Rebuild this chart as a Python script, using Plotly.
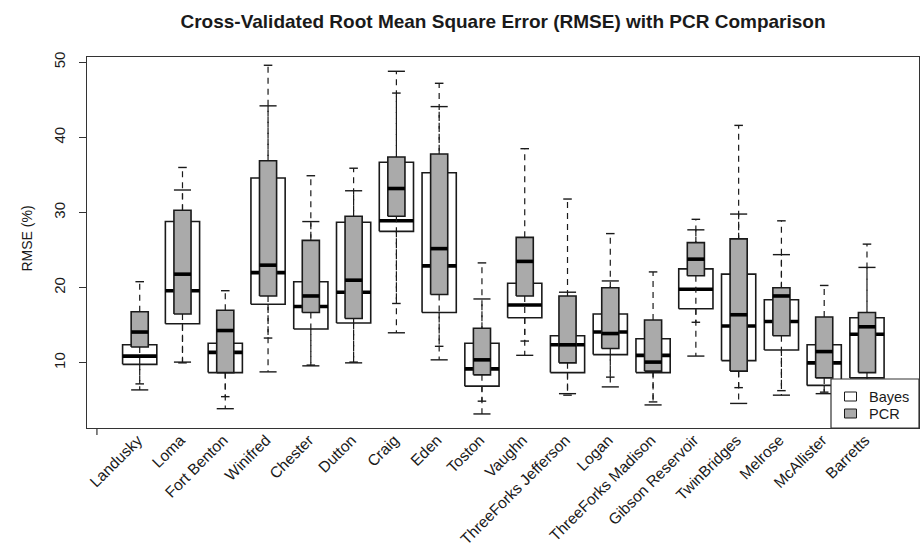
import plotly.graph_objects as go

# Sites along the x axis
sites = ["Landusky", "Loma", "Fort Benton", "Winifred", "Chester", "Dutton",
         "Craig", "Eden", "Toston", "Vaughn", "ThreeForks Jefferson", "Logan",
         "ThreeForks Madison", "Gibson Reservoir", "TwinBridges", "Melrose",
         "McAllister", "Barretts"]

# Bayes RMSE (%) box statistics: whisker low, Q1, median, Q3, whisker high
bayes_lo  = [6.4, 10.1, 3.9, 8.8, 9.6, 10.0, 14.0, 10.4, 3.2, 11.0, 5.9, 6.8, 4.4, 10.9, 4.6, 5.7, 5.9, 6.0]
bayes_q1  = [9.8, 15.2, 8.7, 17.8, 14.5, 15.3, 27.5, 16.7, 6.9, 16.0, 8.7, 11.1, 8.7, 17.2, 10.3, 11.7, 7.0, 8.0]
bayes_med = [10.9, 19.6, 11.4, 22.0, 17.5, 19.4, 28.9, 22.9, 9.2, 17.7, 12.4, 14.1, 11.0, 19.8, 14.9, 15.5, 10.0, 13.8]
bayes_q3  = [12.4, 28.8, 12.6, 34.6, 20.8, 28.7, 36.7, 35.3, 12.6, 20.6, 13.6, 16.5, 13.2, 22.5, 21.8, 18.4, 12.4, 16.0]
bayes_hi  = [14.0, 33.0, 15.0, 44.2, 28.8, 32.9, 48.8, 44.1, 18.5, 24.0, 19.4, 20.9, 15.0, 27.7, 29.8, 24.4, 15.0, 22.7]

# PCR RMSE (%) box statistics
pcr_lo  = [7.2, 10.0, 5.5, 13.3, 9.7, 10.1, 17.9, 12.2, 4.9, 12.9, 5.7, 8.1, 4.8, 15.4, 6.7, 6.3, 6.1, 6.5]
pcr_q1  = [12.1, 16.5, 8.7, 18.9, 16.7, 15.9, 29.5, 19.1, 8.4, 18.9, 10.0, 11.9, 8.9, 21.6, 8.9, 13.6, 8.0, 8.7]
pcr_med = [14.1, 21.8, 14.3, 23.0, 18.9, 21.0, 33.2, 25.2, 10.4, 23.5, 12.4, 13.9, 10.1, 23.8, 16.4, 18.9, 11.5, 14.8]
pcr_q3  = [16.8, 30.3, 17.0, 36.9, 26.3, 29.5, 37.4, 37.8, 14.6, 26.7, 18.9, 20.0, 15.7, 26.0, 26.5, 20.0, 16.1, 16.7]
pcr_hi  = [20.8, 36.0, 19.6, 49.6, 34.9, 35.9, 45.9, 47.2, 23.3, 38.5, 31.8, 27.2, 22.1, 29.1, 41.6, 28.9, 20.3, 25.8]

y_ticks = [10, 20, 30, 40, 50]
legend_names = ["Bayes", "PCR"]
legend_fills = ["#ffffff", "#aaaaaa"]

FONT = "Liberation Sans, Arial, sans-serif"
INK = "#1a1a1a"
FRAME = "#333333"
W, H = 922, 548
ML, MR, MT, MB = 87, 3, 57, 120
PW, PH = W - ML - MR, H - MT - MB
positions = list(range(1, len(sites) + 1))

fig = go.Figure()


def add_boxes(lo, q1, med, q3, hi, box_w, fill):
    """Draw R-style boxplots: dashed whiskers, staples, filled box, thick median."""
    cap_w = box_w / 2
    wx, wy, cx, cy, bx, by, mx, my = [], [], [], [], [], [], [], []
    for x, a, b, m, c, d in zip(positions, lo, q1, med, q3, hi):
        wx += [x, x, None, x, x, None]
        wy += [c, d, None, b, a, None]
        cx += [x - cap_w / 2, x + cap_w / 2, None, x - cap_w / 2, x + cap_w / 2, None]
        cy += [d, d, None, a, a, None]
        l, r = x - box_w / 2, x + box_w / 2
        bx += [l, r, r, l, l, None]
        by += [b, b, c, c, b, None]
        mx += [l, r, None]
        my += [m, m, None]
    fig.add_trace(go.Scatter(x=wx, y=wy, mode="lines", showlegend=False, hoverinfo="skip",
                             line=dict(color=INK, width=1.2, dash="6px,5px")))
    fig.add_trace(go.Scatter(x=cx, y=cy, mode="lines", showlegend=False, hoverinfo="skip",
                             line=dict(color=INK, width=1.4)))
    fig.add_trace(go.Scatter(x=bx, y=by, mode="lines", fill="toself", fillcolor=fill,
                             showlegend=False, hoverinfo="skip",
                             line=dict(color=INK, width=1.6)))
    fig.add_trace(go.Scatter(x=mx, y=my, mode="lines", showlegend=False, hoverinfo="skip",
                             line=dict(color="#000000", width=3.6)))


add_boxes(bayes_lo, bayes_q1, bayes_med, bayes_q3, bayes_hi, 0.8, legend_fills[0])
add_boxes(pcr_lo, pcr_q1, pcr_med, pcr_q3, pcr_hi, 0.4, legend_fills[1])


def px_x(p):
    return (p - ML) / PW


def px_y(p):
    return (MT + PH - p) / PH


# Single tick at the origin of the x axis
fig.add_shape(type="line", xref="x", yref="paper", x0=0, x1=0,
              ysizemode="pixel", yanchor=0, y0=0, y1=-7,
              line=dict(color=FRAME, width=1.2))

# Legend box in the bottom-right corner of the plot
fig.add_shape(type="rect", xref="paper", yref="paper", layer="above",
              x0=px_x(831), x1=1, y0=0, y1=px_y(379),
              fillcolor="white", line=dict(color=FRAME, width=1.2))
for k, (name, col) in enumerate(zip(legend_names, legend_fills)):
    cy = 396.5 + 17 * k
    fig.add_shape(type="rect", xref="paper", yref="paper", layer="above",
                  x0=px_x(844.5), x1=px_x(856.5), y0=px_y(cy + 4.5), y1=px_y(cy - 4.5),
                  fillcolor=col, line=dict(color=INK, width=1))
    fig.add_annotation(text=name, xref="paper", yref="paper", x=px_x(868), y=px_y(cy),
                       xanchor="left", yanchor="middle", showarrow=False, borderpad=0,
                       font=dict(family=FONT, size=14.5, color=INK))

fig.add_annotation(text="RMSE (%)", textangle=-90, xref="paper", yref="paper",
                   x=0, y=0.5, xanchor="center", yanchor="middle",
                   xshift=-61, yshift=4, showarrow=False,
                   font=dict(family=FONT, size=14, color=INK))

fig.update_layout(
    width=W, height=H,
    margin=dict(l=ML, r=MR, t=MT, b=MB, autoexpand=False),
    paper_bgcolor="white", plot_bgcolor="white",
    font=dict(family=FONT, color=INK),
    showlegend=False,
    title=dict(text="<b>Cross-Validated Root Mean Square Error (RMSE) with PCR Comparison</b>",
               x=0.5, xref="paper", y=1 - 21 / H, yref="container",
               xanchor="center", yanchor="middle",
               font=dict(family=FONT, size=19, color=INK)),
    xaxis=dict(range=[-0.232, 19.216], tickvals=positions, ticktext=sites,
               tickangle=-45, ticks="", showgrid=False, zeroline=False,
               automargin=False, ticklabelstandoff=-4, ticklabelshift=-2,
               showline=True, mirror=True, linecolor=FRAME, linewidth=1.2,
               tickfont=dict(family=FONT, size=15.5, color=INK)),
    yaxis=dict(range=[1.33, 50.7], tickvals=y_ticks, tickangle=-90,
               ticks="outside", ticklen=7, tickcolor=FRAME, tickwidth=1.2,
               ticklabelstandoff=8, automargin=False,
               showgrid=False, zeroline=False, showline=True, mirror=True,
               linecolor=FRAME, linewidth=1.2,
               tickfont=dict(family=FONT, size=15, color=INK)),
)

fig.write_html("out.html")
